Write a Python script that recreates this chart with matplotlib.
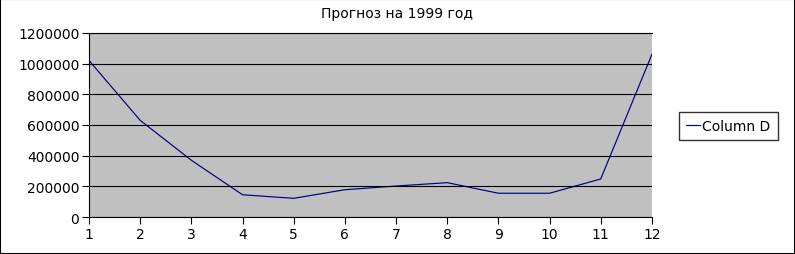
import matplotlib
matplotlib.use("Agg")
import matplotlib.pyplot as plt
from matplotlib.patches import Rectangle

months = [1, 2, 3, 4, 5, 6, 7, 8, 9, 10, 11, 12]
column_d = [1020000, 630000, 370000, 145000, 122000, 178000, 202000, 224000, 155000, 155000, 248000, 1060000]
yticks = [0, 200000, 400000, 600000, 800000, 1000000, 1200000]
title = "Прогноз на 1999 год"
series_name = "Column D"

plt.rcParams['font.family'] = ['DejaVu Sans']
fig = plt.figure(figsize=(7.95, 2.55), dpi=100)
fig.patch.set_facecolor('white')
fig.patches.append(Rectangle((0.0, 0.0), 1, 1, transform=fig.transFigure,
                             fill=False, edgecolor='black', linewidth=1.5))

ax = fig.add_axes([0.112, 0.145, 0.708, 0.722])
ax.set_facecolor('#c0c0c0')
line, = ax.plot(months, column_d, color='#000080', linewidth=0.85, label=series_name)
ax.set_xlim(1, 12)
ax.set_ylim(0, 1200000)
ax.set_xticks(months)
ax.set_yticks(yticks)
ax.set_yticklabels([str(v) for v in yticks])
ax.yaxis.grid(True, color='black', linewidth=0.8)
ax.set_axisbelow(False)
ax.tick_params(direction='out', length=5, width=0.8, labelsize=10, colors='black', pad=2)
ax.spines['right'].set_visible(False)
for s in ['top', 'left', 'bottom']:
    ax.spines[s].set_linewidth(0.8)
fig.text(0.499, 0.945, title, ha='center', va='center', fontsize=10)

leg = fig.legend(handles=[line], loc='center', bbox_to_anchor=(0.916, 0.503),
                 frameon=True, fancybox=False, edgecolor='black', fontsize=10,
                 handlelength=1.0, handletextpad=0.2, borderpad=0.5)
leg.get_frame().set_linewidth(1.0)

fig.savefig('out.png', dpi=100)
